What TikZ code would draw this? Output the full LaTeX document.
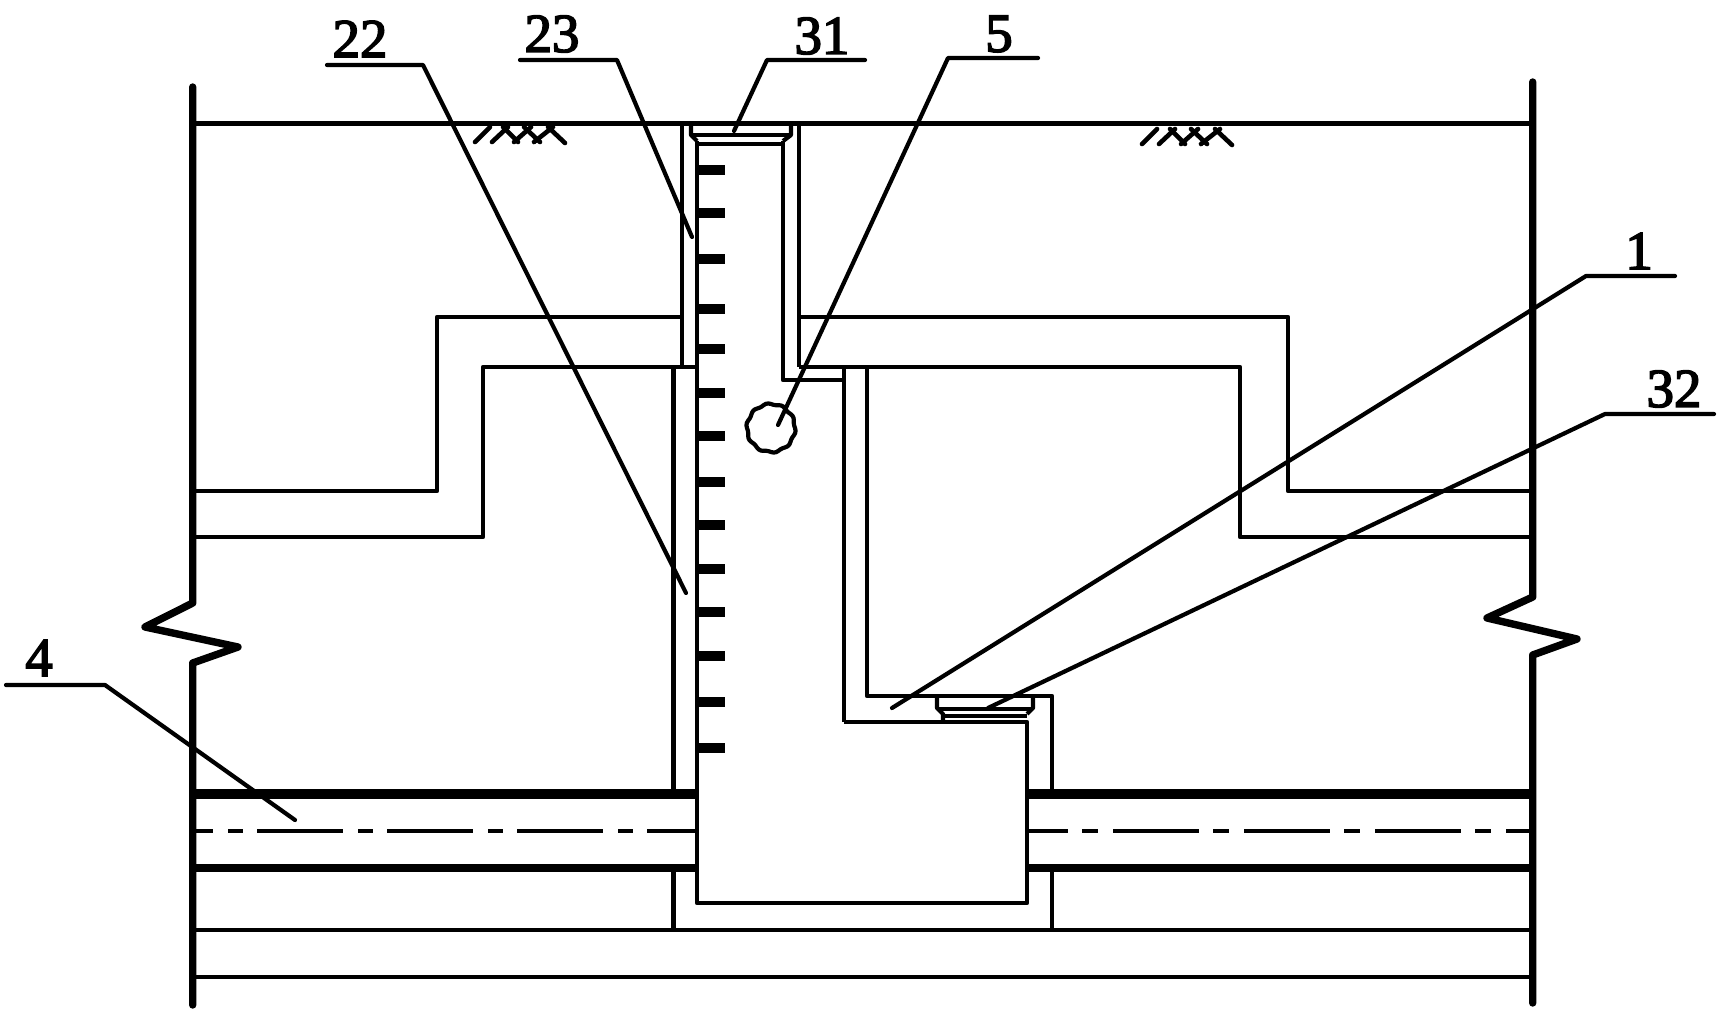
\documentclass[tikz,border=0pt]{standalone}
\usepackage{fontspec}
\newfontfamily\lab[FakeBold=3]{Liberation Serif}
\tikzset{
  wall/.style={line width=3.7pt,line cap=round,line join=round},
  body/.style={line width=2.1pt,line cap=butt,line join=round},
  heavyup/.style={line width=5pt},
  heavylo/.style={line width=4pt},
  rung/.style={line width=5pt,line cap=butt},
  leader/.style={line width=2.1pt,line cap=round,line join=round},
  ground/.style={line width=2.3pt,line cap=round},
  label/.style={inner sep=0pt,font=\lab\fontsize{27.4}{28}\selectfont},
}
\begin{document}
\begin{tikzpicture}[x=0.5pt,y=-0.5pt]
\useasboundingbox (0,0) rectangle (1719,1012);
% ground and structure
\draw[body] (193,123.5) -- (1533,123.5);
\draw[body] (193,491) -- (437,491) -- (437,317) -- (682,317);
\draw[body] (193,537) -- (483,537) -- (483,367) -- (697,367);
\draw[body] (1533,491) -- (1288,491) -- (1288,317) -- (799,317);
\draw[body] (1533,537) -- (1240,537) -- (1240,367) -- (799,367);
\draw[body] (682,123.5) -- (682,367);
\draw[body] (799,123.5) -- (799,367);
\draw[body] (783,141) -- (783,380) -- (844,380);
\draw[body] (844,367) -- (844,722) ;
% shaft
\draw[body] (697,141) -- (697,903) -- (1027,903) -- (1027,722) -- (844,722);
\draw[body] (867,367) -- (867,696) -- (1052,696) -- (1052,790);
\draw[body] (1052,870) -- (1052,930);
\draw[body] (673.5,367) -- (673.5,790);
\draw[body] (673.5,870) -- (673.5,930);
% foundation lines
\draw[body] (193,930) -- (1533,930);
\draw[body] (193,977) -- (1533,977);
% pipe
\draw[heavyup] (193,794) -- (697,794);
\draw[heavylo] (193,868) -- (697,868);
\draw[heavyup] (1027,794) -- (1533,794);
\draw[heavylo] (1027,868) -- (1533,868);
\draw[body,dash pattern=on 43pt off 7.5pt on 7.5pt off 7pt,dash phase=33pt] (193,831) -- (697,831);
\draw[body,dash pattern=on 43pt off 7pt on 8pt off 7.5pt,dash phase=22.5pt] (1027,831) -- (1533,831);
% walls with break marks
\draw[wall] (192.7,87) -- (192.7,603) -- (145,627) -- (238,647) -- (192.7,663) -- (192.7,1005);
\draw[wall] (1532.7,82) -- (1532.7,597) -- (1487,618) -- (1577,639) -- (1532.7,655) -- (1532.7,1003);
% rungs
\foreach \yy in {170,213,259,309,349,393,436,482,525,569,612,656,702,748}
  \draw[rung] (697,\yy) -- (725,\yy);
% upper cover
\draw[body] (693,123.5) -- (691,125) -- (691,135) -- (697,141);
\draw[body] (789,123.5) -- (791,125) -- (791,135) -- (783,141);
\draw[body] (691,135) -- (791,135);
\draw[body] (697,144) -- (783,144);
% lower cover
\draw[body] (937,696) -- (937,708) -- (943,714) -- (943,722);
\draw[body] (1033,696) -- (1033,708) -- (1027,714);
\draw[body] (937,709) -- (1033,709);
\draw[body] (943,716) -- (1027,716);
% circle 5
\draw[body] plot[smooth cycle,samples=60,domain=0:354,variable=\t]
  ({771+(24+0.8*sin(10*\t))*cos(\t)},{428+(24+0.8*sin(10*\t))*sin(\t)});
% ground symbols
\foreach \dx/\dy in {0/0,667/2}{
  \begin{scope}[shift={(\dx,\dy)}]
  \draw[ground] (475,142) -- (490,127);
  \draw[ground] (492,142) -- (508,127);
  \draw[ground] (503,127) -- (518,142);
  \draw[ground] (514,142) -- (531,127);
  \draw[ground] (524,127) -- (540,142);
  \draw[ground] (534,142) -- (553,127);
  \draw[ground] (548,127) -- (565,143);
  \end{scope}}
% labels
\node[label] (n22) at (360,39) {22};
\node[label] (n23) at (552,34) {23};
\node[label] (n31) at (822,36) {31};
\node[label] (n5)  at (999,34) {5};
\node[label] (n1)  at (1639,251) {1};
\node[label] (n32) at (1674,389) {32};
\node[label] (n4)  at (39,658) {4};
% leaders
\coordinate (a22) at (327,65); \coordinate (b22) at (423,65); \coordinate (c22) at (686,593);
\coordinate (a23) at (520,60); \coordinate (b23) at (617,60); \coordinate (c23) at (692,237);
\coordinate (a31) at (865,60); \coordinate (b31) at (767,60); \coordinate (c31) at (734,131);
\coordinate (a5) at (1038,58); \coordinate (b5) at (948,58); \coordinate (c5) at (778,425);
\coordinate (a1) at (1675,276); \coordinate (b1) at (1586,276); \coordinate (c1) at (892,708);
\coordinate (a32) at (1714,414); \coordinate (b32) at (1605,414); \coordinate (c32) at (988,708);
\coordinate (a4) at (6,685); \coordinate (b4) at (105,685); \coordinate (c4) at (295,820);
\foreach \n in {22,23,31,5,1,32,4}
  \draw[leader] (a\n) -- (b\n) -- (c\n);
\end{tikzpicture}
\end{document}
